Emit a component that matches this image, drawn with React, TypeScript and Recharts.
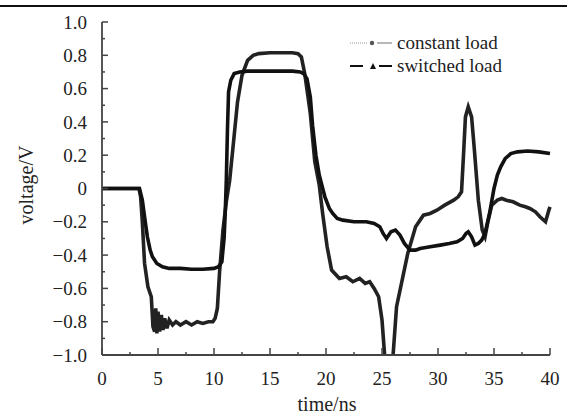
import React from 'react';
import { LineChart, Line, XAxis, YAxis } from 'recharts';

// time (ns) / voltage (V) samples
const constTime = [
  0, 3.3, 3.45, 3.6, 3.8, 4.1, 4.4, 4.55, 4.7, 4.8, 4.9, 5.0, 5.15, 5.3, 5.45, 5.6, 5.8, 6.0, 6.3,
  6.6, 7.0, 7.5, 8.0, 8.5, 9.0, 9.5, 9.9, 10.1, 10.3, 10.5, 10.8, 11.1, 11.4, 11.7, 12.1, 12.5, 13.0,
  13.5, 14, 15, 16, 17, 17.5, 17.8, 18.1, 18.6, 19.0, 19.4, 19.7, 20.1, 20.5, 21.2, 21.8, 22.4, 23.0,
  23.5, 23.9, 24.3, 24.7, 25.0, 25.2, 25.4, 25.8, 26.0, 26.3, 26.8, 27.3, 28.0, 28.7, 29.3, 29.9,
  30.6, 31.4, 31.8, 32.1, 32.3, 32.45, 32.7, 33.0, 33.25, 33.6, 33.95, 34.2, 34.45, 34.8, 35.3, 35.7,
  36.1, 36.7, 37.3, 37.8, 38.2, 38.7, 39.1, 39.6, 39.9, 40,
];
const constVolt = [
  0, 0, -0.05, -0.2, -0.45, -0.59, -0.65, -0.83, -0.86, -0.72, -0.87, -0.74, -0.86, -0.76, -0.85,
  -0.78, -0.84, -0.79, -0.82, -0.8, -0.82, -0.8, -0.82, -0.8, -0.81, -0.8, -0.8, -0.78, -0.72, -0.5,
  -0.25, -0.08, 0.05, 0.25, 0.52, 0.68, 0.77, 0.8, 0.81, 0.815, 0.815, 0.815, 0.81, 0.79, 0.69, 0.45,
  0.16, 0.02, -0.15, -0.35, -0.49, -0.54, -0.53, -0.56, -0.54, -0.57, -0.56, -0.6, -0.65, -0.79,
  -0.97, -1.15, -1.15, -0.99, -0.71, -0.55, -0.39, -0.23, -0.16, -0.15, -0.13, -0.1, -0.07, -0.05,
  -0.02, 0.23, 0.43, 0.49, 0.43, 0.23, -0.07, -0.25, -0.29, -0.2, -0.1, -0.07, -0.06, -0.07, -0.08,
  -0.1, -0.11, -0.12, -0.14, -0.17, -0.2, -0.13, -0.11,
];

const switchTime = [
  0, 3.35, 3.6, 3.8, 4.05, 4.3, 4.5, 4.9, 5.4, 6, 7, 8, 9, 10, 10.4, 10.7, 10.9, 11.0, 11.1, 11.2,
  11.3, 11.5, 11.8, 12.3, 13, 14, 15, 16, 17, 17.7, 18.0, 18.3, 18.6, 18.8, 19.1, 19.4, 19.9, 20.3,
  20.6, 21.0, 21.5, 22.5, 23.6, 24.3, 24.8, 25.1, 25.4, 25.8, 26.2, 26.6, 27.0, 27.5, 28.0, 28.4,
  29.3, 30.2, 31.0, 31.7, 32.2, 32.5, 32.7, 33.0, 33.3, 33.6, 33.9, 34.2, 34.6, 35.0, 35.3, 35.6,
  36.0, 36.5, 37.1, 38, 39, 40,
];
const switchVolt = [
  0, 0, -0.07, -0.17, -0.29, -0.37, -0.41, -0.45, -0.47, -0.48, -0.48, -0.485, -0.485, -0.48, -0.47,
  -0.44, -0.3, -0.15, 0.05, 0.35, 0.58, 0.65, 0.69, 0.7, 0.705, 0.705, 0.705, 0.705, 0.705, 0.7,
  0.69, 0.66, 0.55, 0.38, 0.2, 0.08, -0.05, -0.12, -0.15, -0.18, -0.19, -0.2, -0.2, -0.21, -0.23,
  -0.27, -0.3, -0.26, -0.25, -0.28, -0.33, -0.37, -0.37, -0.36, -0.35, -0.34, -0.33, -0.32, -0.3,
  -0.27, -0.26, -0.29, -0.34, -0.33, -0.31, -0.27, -0.15, 0.0, 0.08, 0.13, 0.18, 0.21, 0.22, 0.225,
  0.22, 0.21,
];

const xTicks = [0, 2.5, 5, 7.5, 10, 12.5, 15, 17.5, 20, 22.5, 25, 27.5, 30, 32.5, 35, 37.5, 40];
const yTicks = [
  -1, -0.9, -0.8, -0.7, -0.6, -0.5, -0.4, -0.3, -0.2, -0.1, 0, 0.1, 0.2, 0.3, 0.4, 0.5, 0.6, 0.7,
  0.8, 0.9, 1,
];

const constData = constTime.map((t, i) => ({ t, v: constVolt[i] }));
const switchData = switchTime.map((t, i) => ({ t, v: switchVolt[i] }));

const FONT = "'Liberation Serif', 'Times New Roman', serif";
const AXIS = '#444';
const textStyle: React.CSSProperties = { fontFamily: FONT };

function YTick({ x, y, payload }: any) {
  const v = payload.value;
  const major = Math.round(v * 10) % 2 === 0;
  const label = v === 0 ? '0' : v.toFixed(1).replace('-', '\u2212');
  return (
    <g>
      <line x1={x} x2={x + (major ? 6 : 3)} y1={y} y2={y} stroke={AXIS} strokeWidth={1.5} />
      {major && (
        <text x={x - 15} y={y} dy="0.35em" textAnchor="end" style={textStyle} fontSize={19} fill="#222">
          {label}
        </text>
      )}
    </g>
  );
}

function XTick({ x, y, payload }: any) {
  const v = payload.value;
  const major = v % 5 === 0;
  return (
    <g>
      <line x1={x} x2={x} y1={y} y2={y - (major ? 7 : 3)} stroke={AXIS} strokeWidth={1.5} />
      {major && (
        <text x={x} y={y + 30} textAnchor="middle" style={textStyle} fontSize={19} fill="#222">
          {v}
        </text>
      )}
    </g>
  );
}

function LegendBox() {
  const row: React.CSSProperties = { display: 'flex', alignItems: 'center', height: 23 };
  const txt: React.CSSProperties = { fontFamily: FONT, fontSize: 19, color: '#222', marginLeft: 3 };
  return (
    <div style={{ position: 'absolute', left: 350, top: 31, pointerEvents: 'none' }}>
      <div style={row}>
        <svg width={44} height={12}>
          <line x1={0} x2={18} y1={6} y2={6} stroke="#999" strokeWidth={1} strokeDasharray="1 1" />
          <circle cx={22} cy={6} r={2.2} fill="#555" />
          <line x1={27} x2={42} y1={6} y2={6} stroke="#888" strokeWidth={1.2} />
        </svg>
        <span style={txt}>constant load</span>
      </div>
      <div style={row}>
        <svg width={44} height={12}>
          <line x1={0} x2={13} y1={6} y2={6} stroke="#111" strokeWidth={2} />
          <polygon points="20,9 23,3 26,9" fill="#111" />
          <line x1={29} x2={42} y1={6} y2={6} stroke="#111" strokeWidth={2} />
        </svg>
        <span style={txt}>switched load</span>
      </div>
    </div>
  );
}

export default function App() {
  return (
    <div style={{ position: 'absolute', left: 0, top: 0, width: 567, height: 414, background: '#fff' }}>
      <LineChart width={567} height={414} margin={{ top: 22, right: 17, bottom: 0, left: 0 }}>
        <XAxis
          type="number"
          dataKey="t"
          domain={[0, 40]}
          ticks={xTicks}
          interval={0}
          height={59}
          tickSize={0}
          tickMargin={0}
          tickLine={false}
          tick={<XTick />}
          stroke={AXIS}
          strokeWidth={1.8}
        />
        <YAxis
          type="number"
          domain={[-1, 1]}
          ticks={yTicks}
          interval={0}
          allowDataOverflow
          width={102}
          tickSize={0}
          tickMargin={0}
          tickLine={false}
          tick={<YTick />}
          stroke={AXIS}
          strokeWidth={1.8}
        />
        <Line
          data={constData}
          dataKey="v"
          name="constant load"
          type="linear"
          stroke="#222"
          strokeWidth={3.6}
          dot={false}
          isAnimationActive={false}
        />
        <Line
          data={switchData}
          dataKey="v"
          name="switched load"
          type="linear"
          stroke="#111"
          strokeWidth={3.6}
          dot={false}
          isAnimationActive={false}
        />
      </LineChart>
      <LegendBox />
      <svg
        width={567}
        height={414}
        style={{ position: 'absolute', left: 0, top: 0, pointerEvents: 'none' }}
      >
        <line x1={0} x2={567} y1={6} y2={6} stroke="#111" strokeWidth={2} />
        <text
          x={26}
          y={185}
          transform="rotate(-90 26 185)"
          textAnchor="middle"
          dominantBaseline="central"
          style={textStyle}
          fontSize={20}
          fill="#222"
        >
          voltage/V
        </text>
        <text x={327} y={411} textAnchor="middle" style={textStyle} fontSize={20} fill="#222">
          time/ns
        </text>
      </svg>
    </div>
  );
}
